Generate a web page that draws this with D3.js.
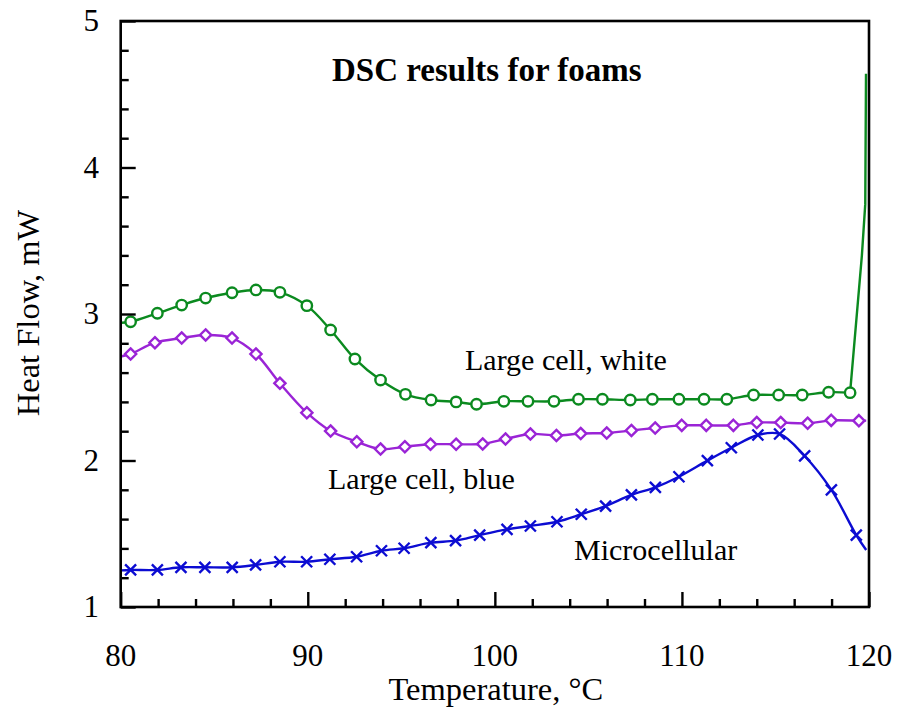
<!DOCTYPE html>
<html><head><meta charset="utf-8">
<script src="https://cdn.jsdelivr.net/npm/d3@7"></script>
<style>
html,body{margin:0;padding:0;background:#fff;}
text{font-family:"Liberation Serif","Times New Roman",serif;fill:#000;}
</style></head>
<body><svg id="chart" width="898" height="715"></svg>
<script>
// ---- data ----
const xMajorTicks = [80, 90, 100, 110, 120];
const yMajorTicks = [1, 2, 3, 4, 5];
const xMinorTicks = [82,84,86,88,92,94,96,98,102,104,106,108,112,114,116,118];
const yMinorTicks = [1.2,1.4,1.6,1.8,2.2,2.4,2.6,2.8,3.2,3.4,3.6,3.8,4.2,4.4,4.6,4.8];

const whiteT = [80.53,81.96,83.26,84.54,85.95,87.23,88.51,89.95,91.22,92.52,93.89,95.22,96.59,97.93,99.02,100.48,101.77,103.16,104.47,105.75,107.24,108.42,109.84,111.18,112.40,113.83,115.17,116.43,117.84,118.99];
const whiteV = [2.947,3.005,3.061,3.109,3.145,3.164,3.148,3.057,2.891,2.693,2.549,2.452,2.413,2.400,2.384,2.404,2.404,2.404,2.418,2.418,2.413,2.418,2.418,2.418,2.418,2.447,2.447,2.447,2.466,2.463];
const whiteLineStart = [80.0, 2.94];
const whiteSpikeT = [119.62, 119.80, 119.84];
const whiteSpikeV = [3.40, 3.75, 4.64];

const blueT = [80.53,81.83,83.26,84.54,85.95,87.23,88.51,89.95,91.22,92.62,93.89,95.19,96.56,97.93,99.35,100.57,101.90,103.29,104.59,105.98,107.30,108.57,109.99,111.30,112.75,114.00,115.28,116.72,117.98,119.46];
const blueV = [2.727,2.804,2.836,2.857,2.836,2.727,2.527,2.326,2.201,2.128,2.078,2.094,2.111,2.111,2.113,2.147,2.181,2.171,2.184,2.188,2.205,2.222,2.240,2.240,2.240,2.259,2.259,2.254,2.274,2.272];
const blueLineStart = [80.0, 2.71];
const blueLineEnd = [119.85, 2.272];

const microT = [80.53,81.96,83.22,84.50,85.96,87.21,88.51,89.94,91.18,92.61,93.94,95.15,96.58,97.90,99.19,100.65,101.90,103.32,104.62,105.92,107.30,108.58,109.84,111.36,112.64,114.06,115.22,116.56,117.99,119.32];
const microV = [1.253,1.253,1.271,1.271,1.271,1.287,1.309,1.309,1.326,1.343,1.384,1.401,1.439,1.453,1.491,1.530,1.553,1.582,1.633,1.689,1.765,1.817,1.889,1.999,2.087,2.174,2.181,2.031,1.799,1.491];
const microLineStart = [80.0, 1.25];
const microLineEnd = [119.85, 1.389];

const labels = ["Large cell, white", "Large cell, blue", "Microcellular"];
const titleText = "DSC results for foams";
const xTitle = "Temperature, °C";
const yTitle = "Heat Flow, mW";

// ---- layout ----
const svg = d3.select("#chart");
const L = 120.7, R = 869, T = 21, B = 607;
const x = d3.scaleLinear().domain([80,120]).range([L,R]);
const y = d3.scaleLinear().domain([1,5]).range([B,T]);

const cGreen = "#0b8a1f", cPurple = "#9a24d6", cBlue = "#0c0cd2";

const greenPts = [whiteLineStart, ...whiteT.map((t,i)=>[t,whiteV[i]]), ...whiteSpikeT.map((t,i)=>[t,whiteSpikeV[i]])];
const purplePts = [blueLineStart, ...blueT.map((t,i)=>[t,blueV[i]]), blueLineEnd];
const microPts = [microLineStart, ...microT.map((t,i)=>[t,microV[i]]), microLineEnd];

const smooth = d3.line().x(d=>x(d[0])).y(d=>y(d[1])).curve(d3.curveCatmullRom);
const straight = d3.line().x(d=>x(d[0])).y(d=>y(d[1]));

const lineG = svg.append("g");
lineG.append("path").attr("d", smooth(greenPts.slice(0, greenPts.length-3)))
  .attr("fill","none").attr("stroke",cGreen).attr("stroke-width",2.4);
lineG.append("path").attr("d", straight(greenPts.slice(greenPts.length-4)))
  .attr("fill","none").attr("stroke",cGreen).attr("stroke-width",2.4);
lineG.append("path").attr("d", smooth(purplePts))
  .attr("fill","none").attr("stroke",cPurple).attr("stroke-width",2.4);
lineG.append("path").attr("d", smooth(microPts))
  .attr("fill","none").attr("stroke",cBlue).attr("stroke-width",2.4);

// markers
svg.append("g").selectAll("circle").data(whiteT.map((t,i)=>[t,whiteV[i]])).join("circle")
  .attr("cx",d=>x(d[0])).attr("cy",d=>y(d[1])).attr("r",5.2)
  .attr("fill","#fff").attr("stroke",cGreen).attr("stroke-width",2.4);
const dm = 5.6;
svg.append("g").selectAll("path").data(blueT.map((t,i)=>[t,blueV[i]])).join("path")
  .attr("d",d=>{const cx=x(d[0]),cy=y(d[1]);return `M${cx},${cy-dm}L${cx+dm},${cy}L${cx},${cy+dm}L${cx-dm},${cy}Z`;})
  .attr("fill","#fff").attr("stroke",cPurple).attr("stroke-width",2.4);
const xm = 5.5;
svg.append("g").selectAll("path").data(microT.map((t,i)=>[t,microV[i]])).join("path")
  .attr("d",d=>{const cx=x(d[0]),cy=y(d[1]);return `M${cx-xm},${cy-xm}L${cx+xm},${cy+xm}M${cx-xm},${cy+xm}L${cx+xm},${cy-xm}`;})
  .attr("fill","none").attr("stroke",cBlue).attr("stroke-width",2.4);

// axes (ticks inward)
function styleAxis(g){ g.select(".domain").remove(); g.selectAll("text").remove(); g.selectAll("line").attr("stroke","#000").attr("stroke-width",2.4); }
svg.append("g").attr("transform",`translate(0,${B})`).call(d3.axisBottom(x).tickValues(xMajorTicks).tickSize(-15)).call(styleAxis);
svg.append("g").attr("transform",`translate(0,${B})`).call(d3.axisBottom(x).tickValues(xMinorTicks).tickSize(-8)).call(styleAxis);
svg.append("g").attr("transform",`translate(${L},0)`).call(d3.axisLeft(y).tickValues(yMajorTicks).tickSize(-15)).call(styleAxis);
svg.append("g").attr("transform",`translate(${L},0)`).call(d3.axisLeft(y).tickValues(yMinorTicks).tickSize(-8)).call(styleAxis);

// frame
svg.append("rect").attr("x",L).attr("y",T).attr("width",R-L).attr("height",B-T)
  .attr("fill","none").attr("stroke","#000").attr("stroke-width",2.6);

// tick labels
svg.append("g").selectAll("text").data(xMajorTicks).join("text")
  .attr("x",d=>x(d)).attr("y",666).attr("text-anchor","middle").style("font-size","31px").text(d=>d);
svg.append("g").selectAll("text").data(yMajorTicks).join("text")
  .attr("x",99).attr("y",d=>y(d)+10).attr("text-anchor","end").style("font-size","31px").text(d=>d);

// titles
svg.append("text").attr("x",(L+R)/2+1).attr("y",700).attr("text-anchor","middle").style("font-size","32.5px").text(xTitle);
svg.append("text").attr("transform",`translate(39,${(T+B)/2-1}) rotate(-90)`).attr("text-anchor","middle").style("font-size","32.5px").text(yTitle);
svg.append("text").attr("x",332).attr("y",81).style("font-size","33px").style("font-weight","bold").text(titleText);

// series labels
svg.append("text").attr("x",465).attr("y",370).style("font-size","30px").text(labels[0]);
svg.append("text").attr("x",328).attr("y",489).style("font-size","30px").text(labels[1]);
svg.append("text").attr("x",574).attr("y",560).style("font-size","30px").text(labels[2]);
</script></body></html>
